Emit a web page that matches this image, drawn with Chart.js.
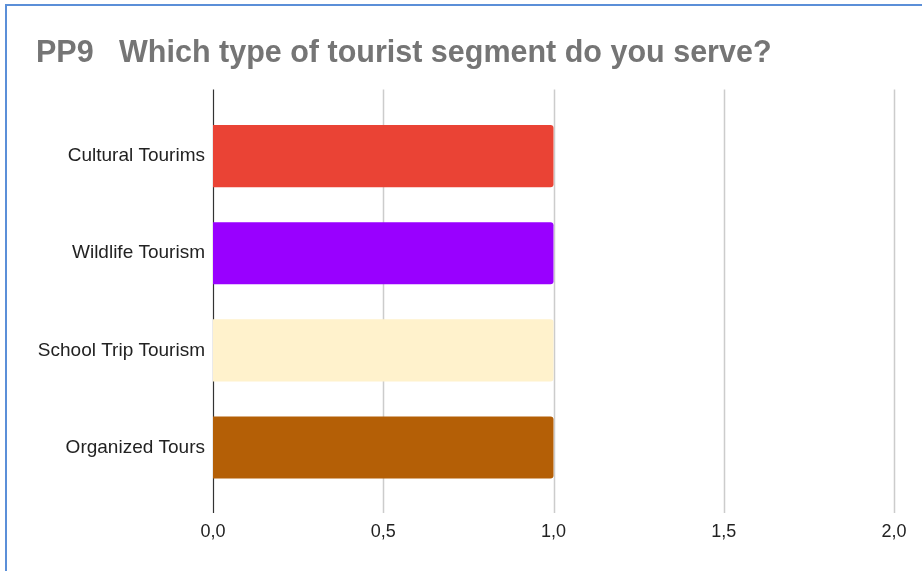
<!DOCTYPE html>
<html>
<head>
<meta charset="utf-8">
<script src="https://cdn.jsdelivr.net/npm/chart.js@4.4.1/dist/chart.umd.min.js"></script>
<style>
  body { margin: 0; background: #fff; overflow: hidden; }
  #wrap { position: relative; width: 922px; height: 571px; }
  #frame { position: absolute; left: 5px; top: 4px; width: 2000px; height: 2000px;
           border-top: 2px solid #5b8fd8; border-left: 2px solid #5b8fd8; pointer-events: none; }
</style>
</head>
<body>
<div id="wrap">
  <canvas id="chart" width="922" height="571"></canvas>
  <div id="frame"></div>
</div>
<script>
const segments = ['Cultural Tourims', 'Wildlife Tourism', 'School Trip Tourism', 'Organized Tours'];
const counts = [1, 1, 1, 1];
const barColors = ['#ea4335', '#9900ff', '#fff2cc', '#b45f06'];
const xTicks = [0, 0.5, 1, 1.5, 2];

const fontFamily = '"Liberation Sans", Arial, sans-serif';

// vertical grid lines run a bit past the bar area, top and bottom
const gridPlugin = {
  id: 'longGrid',
  beforeDatasetsDraw(chart) {
    const {ctx, chartArea, scales} = chart;
    const top = chartArea.top - 18;
    const bottom = chartArea.bottom + 17;
    ctx.save();
    xTicks.forEach(v => {
      const x = Math.round(scales.x.getPixelForValue(v)) + 0.5;
      ctx.beginPath();
      ctx.strokeStyle = v === 0 ? '#333333' : '#cccccc';
      ctx.lineWidth = v === 0 ? 1.2 : 1.5;
      ctx.moveTo(x, top);
      ctx.lineTo(x, bottom);
      ctx.stroke();
    });
    ctx.restore();
  }
};

const ctx = document.getElementById('chart').getContext('2d');
const chart = new Chart(ctx, {
  type: 'bar',
  data: {
    labels: segments,
    datasets: [{
      data: counts,
      backgroundColor: barColors,
      borderWidth: 0,
      borderRadius: { topRight: 3, bottomRight: 3 },
      borderSkipped: 'start',
      barPercentage: 0.64,
      categoryPercentage: 1
    }]
  },
  options: {
    indexAxis: 'y',
    responsive: false,
    animation: false,
    layout: { padding: { left: 36, right: 28, top: 0, bottom: 0 } },
    plugins: {
      legend: { display: false },
      tooltip: { enabled: false },
      title: {
        display: true,
        text: 'PP9   Which type of tourist segment do you serve?',
        align: 'start',
        color: '#757575',
        font: { family: fontFamily, size: 30.5, weight: 'bold' },
        padding: { top: 35, bottom: 36 }
      }
    },
    scales: {
      x: {
        min: 0,
        max: 2,
        afterBuildTicks(scale) {
          scale.ticks = xTicks.map(v => ({ value: v }));
        },
        afterFit(scale) {
          scale.height = 75;
          scale.paddingLeft = 0;
          scale.paddingRight = 0;
        },
        grid: { display: false, drawTicks: false },
        border: { display: false },
        ticks: {
          color: '#222222',
          padding: 25,
          font: { family: fontFamily, size: 18 },
          callback: v => v.toFixed(1).replace('.', ',')
        }
      },
      y: {
        afterFit(scale) { scale.width = 177; },
        grid: { display: false, drawTicks: false },
        border: { display: false },
        ticks: {
          color: '#222222',
          padding: 8,
          font: { family: fontFamily, size: 19 }
        }
      }
    }
  },
  plugins: [gridPlugin]
});
</script>
</body>
</html>
